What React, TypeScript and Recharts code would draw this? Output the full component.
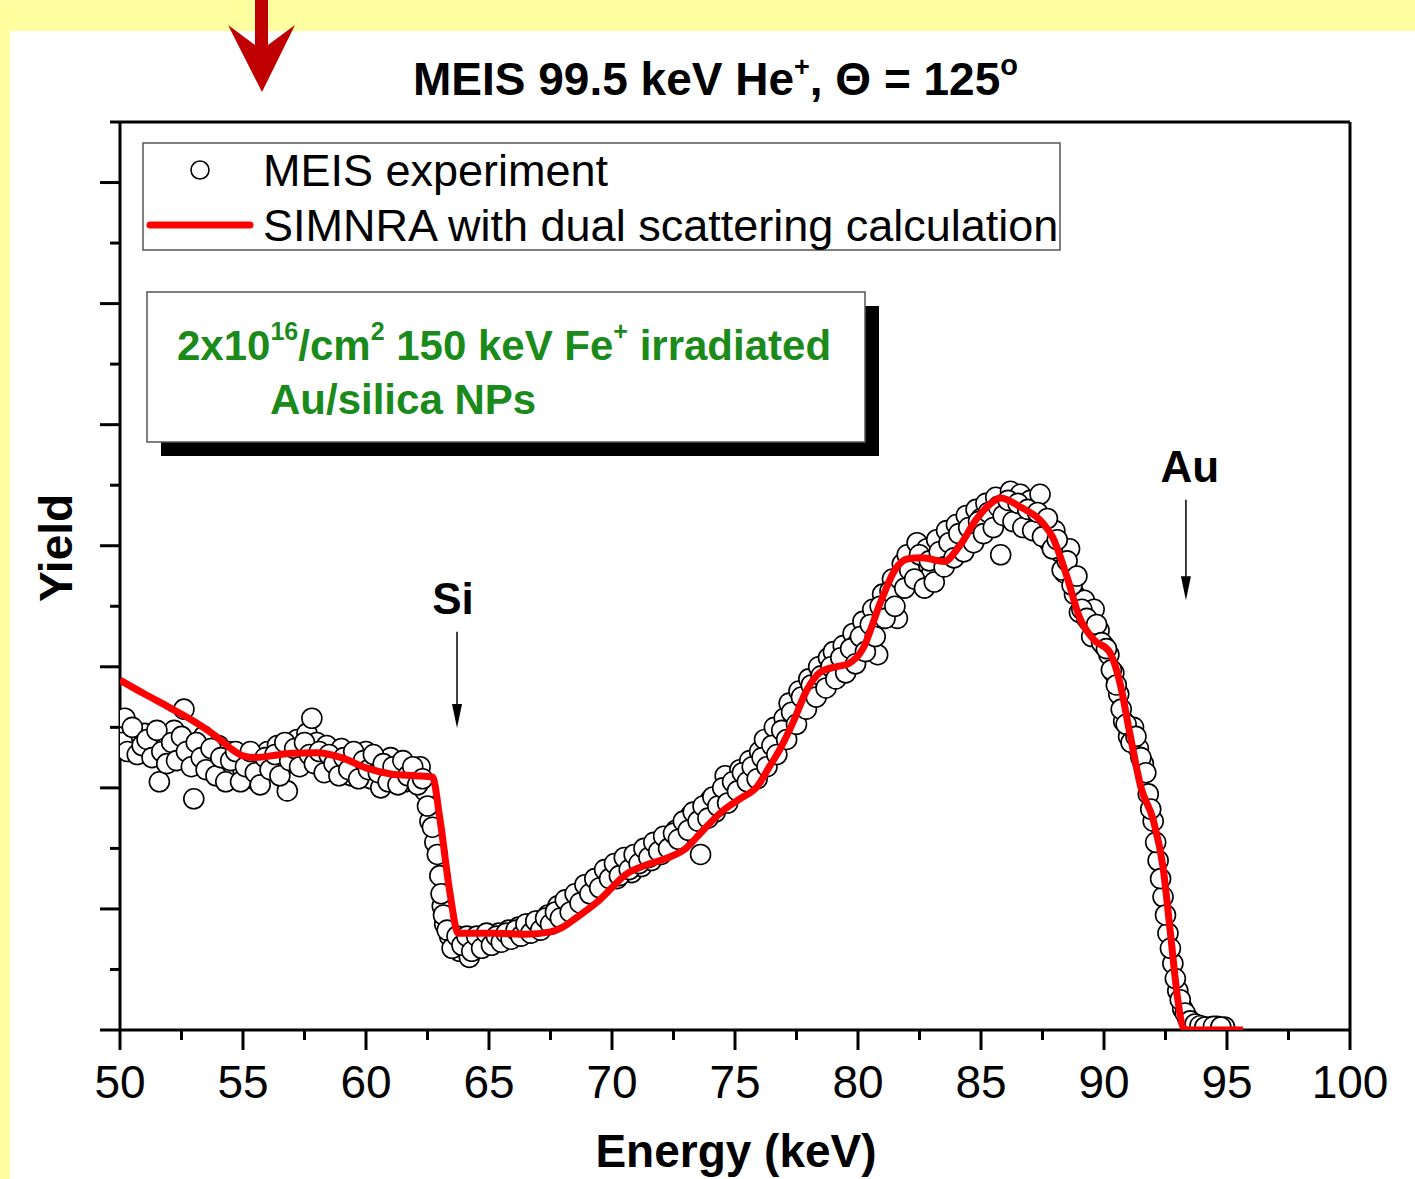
import { ComposedChart, Scatter, Line, XAxis, YAxis, ReferenceLine } from 'recharts';

// MEIS experiment (open circles), first pass of channels
const expEnergy = [
  50.0, 50.2, 50.4, 50.6, 50.8, 51.0, 51.2, 51.4, 51.6, 51.8, 52.0, 52.2, 52.4, 52.6, 52.8,
  53.0, 53.2, 53.4, 53.6, 53.8, 54.0, 54.2, 54.4, 54.6, 54.8, 55.0, 55.2, 55.4, 55.6, 55.8,
  56.0, 56.2, 56.4, 56.6, 56.8, 57.0, 57.2, 57.4, 57.6, 57.8, 58.0, 58.2, 58.4, 58.6, 58.8,
  59.0, 59.2, 59.4, 59.6, 59.8, 60.0, 60.2, 60.4, 60.6, 60.8, 61.0, 61.2, 61.4, 61.6, 61.8,
  62.0, 62.2, 62.4, 62.6, 62.8, 63.0, 63.1, 63.2, 63.4, 63.6, 63.8, 64.0, 64.2, 64.4, 64.6,
  64.8, 65.0, 65.2, 65.4, 65.6, 65.8, 66.0, 66.2, 66.4, 66.6, 66.8, 67.0, 67.2, 67.4, 67.6,
  67.8, 68.0, 68.2, 68.4, 68.6, 68.8, 69.0, 69.2, 69.4, 69.6, 69.8, 70.0, 70.2, 70.4, 70.6,
  70.8, 71.0, 71.2, 71.4, 71.6, 71.8, 72.0, 72.2, 72.4, 72.6, 72.8, 73.0, 73.2, 73.4, 73.6,
  73.8, 74.0, 74.2, 74.4, 74.6, 74.8, 75.0, 75.2, 75.4, 75.6, 75.8, 76.0, 76.2, 76.4, 76.6,
  76.8, 77.0, 77.2, 77.4, 77.6, 77.8, 78.0, 78.2, 78.4, 78.6, 78.8, 79.0, 79.2, 79.4, 79.6,
  79.8, 80.0, 80.2, 80.4, 80.6, 80.8, 81.0, 81.2, 81.4, 81.6, 81.8, 82.0, 82.2, 82.4, 82.6,
  82.8, 83.0, 83.2, 83.4, 83.6, 83.8, 84.0, 84.2, 84.4, 84.6, 84.8, 85.0, 85.2, 85.4, 85.6,
  85.8, 86.0, 86.2, 86.4, 86.6, 86.8, 87.0, 87.2, 87.4, 87.6, 87.8, 88.0, 88.2, 88.4, 88.6,
  88.8, 89.0, 89.2, 89.4, 89.6, 89.8, 90.0, 90.2, 90.4, 90.6, 90.8, 91.0, 91.2, 91.4, 91.6,
  91.8, 92.0, 92.2, 92.4, 92.6, 92.8, 93.0, 93.2, 93.4, 93.6, 93.8, 94.0, 94.3, 94.6, 94.9,
];
const expYield = [
  4.95, 5.15, 4.8, 4.7, 4.85, 4.9, 4.55, 4.75, 4.1, 4.85, 4.65, 4.95, 4.5, 5.3, 4.7,
  3.82, 4.6, 4.85, 4.4, 4.55, 4.7, 4.35, 4.6, 4.2, 4.45, 4.3, 4.55, 4.15, 4.4, 4.25,
  4.6, 4.45, 4.7, 4.35, 3.95, 4.55, 4.8, 4.65, 4.9, 5.15, 4.75, 4.5, 4.7, 4.3, 4.55,
  4.65, 4.4, 4.2, 4.55, 4.35, 4.6, 4.15, 4.45, 4.0, 4.3, 4.5, 4.25, 4.4, 4.1, 4.3,
  4.2, 4.35, 3.95, 3.45, 3.1, 2.55, 2.05, 1.75, 1.55, 1.45, 1.3, 1.45, 1.2, 1.35, 1.5,
  1.4, 1.55, 1.45, 1.6, 1.5, 1.65, 1.55, 1.7, 1.6, 1.75, 1.65, 1.8, 1.7, 1.9, 1.8,
  2.05, 1.95, 2.1, 2.0, 2.2, 2.3, 2.15, 2.4, 2.3, 2.55, 2.45, 2.6, 2.5, 2.7, 2.75,
  2.6, 2.85, 2.7, 2.95, 2.8, 3.05, 2.9, 3.15, 3.05, 3.3, 3.1, 3.4, 3.55, 3.35, 2.9,
  3.65, 3.8, 3.6, 3.9, 4.2, 3.85, 4.1, 4.3, 4.05, 4.45, 4.25, 4.6, 4.8, 4.55, 5.0,
  4.75, 5.15, 5.4, 5.1, 5.6, 5.35, 5.8, 5.55, 6.0, 5.7, 6.15, 6.25, 5.95, 6.35, 6.1,
  6.55, 6.4, 6.75, 6.45, 6.95, 6.2, 7.2, 7.05, 7.45, 6.8, 7.7, 7.85, 7.6, 8.05, 7.75,
  7.95, 7.55, 8.1, 7.8, 8.25, 7.95, 8.35, 8.15, 8.5, 8.2, 8.6, 8.45, 8.7, 8.4, 8.8,
  7.85, 8.65, 8.9, 8.55, 8.85, 8.4, 8.75, 8.5, 8.85, 8.35, 8.05, 8.25, 7.9, 7.55, 7.95,
  7.2, 6.9, 7.1, 6.75, 6.95, 6.6, 6.35, 6.2, 5.9, 5.55, 5.1, 4.85, 5.0, 4.65, 4.4,
  3.9, 3.45, 2.8, 2.2, 1.6, 1.1, 0.65, 0.35, 0.2, 0.12, 0.08, 0.06, 0.05, 0.06, 0.05,
];

// MEIS experiment, interleaved channels
const expEnergy2 = [
  50.1, 50.3, 50.5, 50.7, 50.9, 51.1, 51.3, 51.5, 51.7, 51.9, 52.1, 52.3, 52.5, 52.7, 52.9,
  53.1, 53.3, 53.5, 53.7, 53.9, 54.1, 54.3, 54.5, 54.7, 54.9, 55.1, 55.3, 55.5, 55.7, 55.9,
  56.1, 56.3, 56.5, 56.7, 56.9, 57.1, 57.3, 57.5, 57.7, 57.9, 58.1, 58.3, 58.5, 58.7, 58.9,
  59.1, 59.3, 59.5, 59.7, 59.9, 60.1, 60.3, 60.5, 60.7, 60.9, 61.1, 61.3, 61.5, 61.7, 61.9,
  62.1, 62.3, 62.5, 62.7, 62.9, 63.05, 63.15, 63.3, 63.5, 63.7, 63.9, 64.1, 64.3, 64.5, 64.7,
  64.9, 65.1, 65.3, 65.5, 65.7, 65.9, 66.1, 66.3, 66.5, 66.7, 66.9, 67.1, 67.3, 67.5, 67.7,
  67.9, 68.1, 68.3, 68.5, 68.7, 68.9, 69.1, 69.3, 69.5, 69.7, 69.9, 70.1, 70.3, 70.5, 70.7,
  70.9, 71.1, 71.3, 71.5, 71.7, 71.9, 72.1, 72.3, 72.5, 72.7, 72.9, 73.1, 73.3, 73.5, 73.7,
  73.9, 74.1, 74.3, 74.5, 74.7, 74.9, 75.1, 75.3, 75.5, 75.7, 75.9, 76.1, 76.3, 76.5, 76.7,
  76.9, 77.1, 77.3, 77.5, 77.7, 77.9, 78.1, 78.3, 78.5, 78.7, 78.9, 79.1, 79.3, 79.5, 79.7,
  79.9, 80.1, 80.3, 80.5, 80.7, 80.9, 81.1, 81.3, 81.5, 81.7, 81.9, 82.1, 82.3, 82.5, 82.7,
  82.9, 83.1, 83.3, 83.5, 83.7, 83.9, 84.1, 84.3, 84.5, 84.7, 84.9, 85.1, 85.3, 85.5, 85.7,
  85.9, 86.1, 86.3, 86.5, 86.7, 86.9, 87.1, 87.3, 87.5, 87.7, 87.9, 88.1, 88.3, 88.5, 88.7,
  88.9, 89.1, 89.3, 89.5, 89.7, 89.9, 90.1, 90.3, 90.5, 90.7, 90.9, 91.1, 91.3, 91.5, 91.7,
  91.9, 92.1, 92.3, 92.5, 92.7, 92.9, 93.1, 93.3, 93.5, 93.7, 93.9, 94.1, 94.45, 94.75,
];
const expYield2 = [
  4.75, 4.6, 5.0, 4.55, 4.7, 4.8, 4.5, 4.95, 4.6, 4.4, 4.75, 4.45, 4.85, 4.6, 4.35,
  4.75, 4.5, 4.3, 4.65, 4.2, 4.5, 4.1, 4.45, 4.6, 4.1, 4.35, 4.6, 4.25, 4.05, 4.5,
  4.3, 4.55, 4.2, 4.75, 4.45, 4.65, 4.35, 4.75, 4.55, 4.4, 4.6, 4.25, 4.55, 4.4, 4.2,
  4.5, 4.3, 4.6, 4.15, 4.45, 4.3, 4.55, 4.25, 4.4, 4.1, 4.35, 4.05, 4.45, 4.2, 4.35,
  4.05, 4.15, 3.7, 3.35, 2.9, 2.25, 1.9, 1.65, 1.35, 1.55, 1.4, 1.55, 1.3, 1.55, 1.35,
  1.6, 1.4, 1.55, 1.45, 1.6, 1.5, 1.65, 1.55, 1.75, 1.6, 1.8, 1.65, 1.85, 1.75, 1.95,
  1.85, 2.15, 1.95, 2.25, 2.1, 2.4, 2.25, 2.5, 2.35, 2.65, 2.5, 2.75, 2.55, 2.85, 2.65,
  2.9, 2.75, 3.0, 2.85, 3.1, 2.95, 3.2, 3.0, 3.25, 3.15, 3.45, 3.3, 3.6, 3.45, 3.7,
  3.5, 3.85, 3.7, 4.0, 3.75, 4.1, 3.95, 4.25, 4.1, 4.35, 4.15, 4.5, 4.35, 4.7, 4.55,
  4.95, 4.8, 5.25, 5.05, 5.5, 5.3, 5.7, 5.5, 5.85, 5.65, 6.0, 5.8, 6.15, 5.9, 6.3,
  6.05, 6.5, 6.25, 6.7, 6.5, 7.0, 6.8, 7.25, 7.0, 7.45, 7.3, 7.6, 7.45, 7.85, 7.3,
  7.75, 7.4, 7.9, 7.65, 8.05, 7.8, 8.2, 7.9, 8.3, 8.05, 8.4, 8.2, 8.55, 8.3, 8.65,
  8.5, 8.75, 8.4, 8.7, 8.3, 8.6, 8.25, 8.55, 8.15, 8.45, 7.95, 8.1, 7.6, 7.75, 7.35,
  7.5, 6.95, 6.8, 6.5, 6.7, 6.4, 6.3, 5.95, 5.7, 5.3, 5.05, 4.75, 4.85, 4.5, 4.25,
  3.65, 3.1, 2.5, 1.9, 1.35, 0.85, 0.5, 0.28, 0.15, 0.1, 0.07, 0.05, 0.06, 0.05,
];

// SIMNRA with dual scattering calculation (red line)
const simEnergy = [
  50, 51, 52, 53, 54, 54.5, 55, 55.5, 56, 57, 58, 59, 60, 61, 62, 62.7, 63.0, 63.4, 63.75,
  64.5, 65.3, 66.5, 67.5, 68.0, 68.5, 69.5, 70.6, 71.5, 72.3, 73.0, 73.7, 74.5, 75.2, 75.9,
  76.4, 76.8, 77.4, 77.9, 78.5, 79.1, 79.6, 80.2, 80.9, 81.5, 82.0, 82.6, 83.5, 84.1, 84.8,
  85.4, 85.8, 86.6, 87.5, 87.9, 88.5, 89.0, 89.6, 90.2, 90.65, 91.05, 91.5, 92.0, 92.4, 92.7,
  93.0, 93.2, 93.4, 94.5, 95.65,
];
const simYield = [
  5.78, 5.55, 5.33, 5.1, 4.82, 4.65, 4.53, 4.5, 4.52, 4.57, 4.58, 4.5, 4.33, 4.23, 4.2, 4.18, 3.5, 2.3, 1.6,
  1.6, 1.6, 1.58, 1.62, 1.7, 1.84, 2.15, 2.58, 2.74, 2.85, 3.0, 3.3, 3.62, 3.82, 4.02,
  4.35, 4.62, 5.12, 5.6, 5.92, 6.0, 6.05, 6.3, 7.05, 7.6, 7.78, 7.8, 7.74, 7.98, 8.43,
  8.7, 8.79, 8.64, 8.38, 8.15, 7.48, 6.82, 6.44, 6.26, 5.73, 4.9, 4.01, 3.47, 2.69, 1.6,
  0.5, 0.06, 0, 0, 0,
];

const xTicks = [50, 52.5, 55, 57.5, 60, 62.5, 65, 67.5, 70, 72.5, 75, 77.5, 80, 82.5, 85, 87.5, 90, 92.5, 95, 97.5, 100];
const yTicks = [0, 1, 2, 3, 4, 5, 6, 7, 8, 9, 10, 11, 12, 13, 14, 15];

const expData = [
  ...expEnergy.map((x, i) => ({ x, y: expYield[i] })),
  ...expEnergy2.map((x, i) => ({ x, y: expYield2[i] })),
];
const simData = simEnergy.map((x, i) => ({ x, y: simYield[i] }));

const FONT = '"Liberation Sans", Arial, Helvetica, sans-serif';
const GREEN = '#1a8a1a';
const W = 1415;
const H = 1179;
const MARGIN = { top: 122, right: 65, bottom: 49, left: 100 };

function XTick(props: any) {
  const { x, y, payload } = props;
  const major = payload.value % 5 === 0;
  return (
    <g>
      <line x1={x} y1={y} x2={x} y2={y + (major ? 20 : 10)} stroke="#000" strokeWidth={3} />
      {major && (
        <text x={x} y={y + 68} textAnchor="middle" fontSize={46} fontFamily={FONT} fill="#000">
          {payload.value}
        </text>
      )}
    </g>
  );
}

function YTick(props: any) {
  const { x, y, payload } = props;
  const major = payload.value % 2 === 0;
  return <line x1={x} y1={y} x2={x - (major ? 20 : 10)} y2={y} stroke="#000" strokeWidth={3} />;
}

function Circle(props: any) {
  return <circle cx={props.cx} cy={props.cy} r={10} fill="#fff" stroke="#000" strokeWidth={1.6} />;
}

const arrowShape = (label: string, dx: number) => (props: any) => {
  const { x1, y1, x2, y2 } = props;
  const top = Math.min(y1, y2);
  const tip = Math.max(y1, y2);
  return (
    <g>
      <line x1={x1} y1={top} x2={x1} y2={tip - 20} stroke="#000" strokeWidth={1.5} />
      <polygon points={`${x1 - 5},${tip - 24} ${x1 + 5},${tip - 24} ${x1},${tip}`} fill="#000" />
      <text x={x1 + dx} y={top - 18} textAnchor="middle" fontSize={44} fontWeight="bold" fontFamily={FONT} fill="#000">
        {label}
      </text>
    </g>
  );
};

export default function App() {
  return (
    <div style={{ position: 'fixed', left: 0, top: 0, width: W, height: H, background: '#ffffa0', overflow: 'hidden' }}>
      <div style={{ position: 'absolute', left: 10, top: 31, right: 0, bottom: 0, background: '#fff' }} />
      {/* axes + experiment circles */}
      <div style={{ position: 'absolute', left: 0, top: 0 }}>
        <ComposedChart width={W} height={H} margin={MARGIN}>
          <XAxis
            type="number"
            dataKey="x"
            domain={[50, 100]}
            ticks={xTicks}
            interval={0}
            allowDataOverflow
            height={100}
            tickSize={0}
            tickMargin={0}
            tick={<XTick />}
            axisLine={{ stroke: '#000', strokeWidth: 3 }}
          />
          <YAxis
            type="number"
            dataKey="y"
            domain={[0, 15]}
            ticks={yTicks}
            interval={0}
            allowDataOverflow
            width={20}
            tickSize={0}
            tickMargin={0}
            tick={<YTick />}
            axisLine={{ stroke: '#000', strokeWidth: 3 }}
          />
          <Scatter data={expData} dataKey="y" shape={<Circle />} isAnimationActive={false} />
          <ReferenceLine y={15} stroke="#000" strokeWidth={3} />
          <ReferenceLine x={100} stroke="#000" strokeWidth={3} />
        </ComposedChart>
      </div>
      {/* simulation line on top of circles */}
      <div style={{ position: 'absolute', left: 0, top: 0 }}>
        <ComposedChart width={W} height={H} margin={MARGIN}>
          <XAxis
            type="number"
            dataKey="x"
            domain={[50, 100]}
            ticks={xTicks}
            allowDataOverflow
            height={100}
            tick={false}
            tickLine={false}
            axisLine={false}
          />
          <YAxis
            type="number"
            dataKey="y"
            domain={[0, 15]}
            ticks={yTicks}
            allowDataOverflow
            width={20}
            tick={false}
            tickLine={false}
            axisLine={false}
          />
          <Line
            data={simData}
            dataKey="y"
            type="monotone"
            stroke="#ff0000"
            strokeWidth={7}
            dot={false}
            isAnimationActive={false}
          />
          <ReferenceLine
            segment={[{ x: 63.7, y: 6.58 }, { x: 63.7, y: 4.99 }]}
            shape={arrowShape('Si', -4)}
          />
          <ReferenceLine
            segment={[{ x: 93.33, y: 8.76 }, { x: 93.33, y: 7.1 }]}
            shape={arrowShape('Au', 4)}
          />
        </ComposedChart>
      </div>
      <svg width={W} height={H} style={{ position: 'absolute', left: 0, top: 0, pointerEvents: 'none' }} fontFamily={FONT}>
        <polygon points="255,0 268,0 268,45 295,25 262,92 228,25 255,45" fill="#c00000" />
        <text x={413} y={95} fontSize={46} fontWeight="bold" fill="#000">
          MEIS 99.5 keV He
          <tspan fontSize={27} dy={-19}>+</tspan>
          <tspan dy={19}>, Θ = 125</tspan>
          <tspan fontSize={29} dy={-20}>o</tspan>
        </text>
        <text x={736} y={1167} textAnchor="middle" fontSize={46} fontWeight="bold" fill="#000">
          Energy (keV)
        </text>
        <text transform="translate(72,548) rotate(-90)" textAnchor="middle" fontSize={46} fontWeight="bold" fill="#000">
          Yield
        </text>
        <rect x={143} y={143} width={917} height={107} fill="#fff" stroke="#555" strokeWidth={1.5} />
        <circle cx={200} cy={170} r={9} fill="#fff" stroke="#000" strokeWidth={1.6} />
        <text x={263} y={186} fontSize={45} fill="#000">MEIS experiment</text>
        <line x1={150} y1={225} x2={250} y2={225} stroke="#ff0000" strokeWidth={7} strokeLinecap="round" />
        <text x={263} y={241} fontSize={45} fill="#000">SIMNRA with dual scattering calculation</text>
        <rect x={161} y={306} width={718} height={150} fill="#000" />
        <rect x={147} y={292} width={718} height={150} fill="#fff" stroke="#555" strokeWidth={1.5} />
        <text x={177} y={360} fontSize={42} fontWeight="bold" fill={GREEN}>
          2x10
          <tspan fontSize={25} dy={-20}>16</tspan>
          <tspan dy={20}>/cm</tspan>
          <tspan fontSize={25} dy={-20}>2</tspan>
          <tspan dy={20}> 150 keV Fe</tspan>
          <tspan fontSize={25} dy={-20}>+</tspan>
          <tspan dy={20}> irradiated</tspan>
        </text>
        <text x={270} y={414} fontSize={42} fontWeight="bold" fill={GREEN}>
          Au/silica NPs
        </text>
      </svg>
    </div>
  );
}
